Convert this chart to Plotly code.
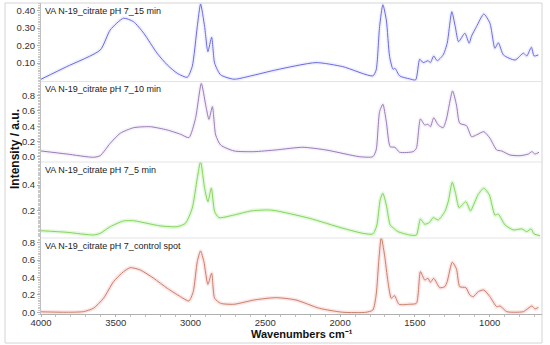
import plotly.graph_objects as go

# ---------------- data ----------------
titles = ["VA N-19_citrate pH 7_15 min", "VA N-19_citrate pH 7_10 min",
          "VA N-19_citrate pH 7_5 min", "VA N-19_citrate pH 7_control spot"]

wn_15 = [4000, 3828, 3604, 3537, 3448, 3381, 3313, 3224, 3156, 3089, 3022, 2989, 2955, 2933, 2906,
         2884, 2859, 2839, 2799, 2709, 2597, 2430, 2161, 1982, 1781, 1759, 1736, 1714, 1691, 1669,
         1646, 1633, 1602, 1535, 1495, 1468, 1445, 1412, 1396, 1374, 1351, 1311, 1284, 1253, 1230,
         1208, 1166, 1137, 1121, 1088, 1039, 998, 965, 942, 908, 830, 774, 752, 721, 703, 674]
int_15 = [0.008, 0.08, 0.175, 0.29, 0.357, 0.337, 0.271, 0.157, 0.09, 0.042, 0.019, 0.08, 0.309, 0.438, 0.309,
          0.166, 0.248, 0.10, 0.033, 0.008, 0.027, 0.061, 0.103, 0.08, 0.027, 0.061, 0.309, 0.434, 0.347, 0.137,
          0.065, 0.071, 0.027, 0.01, 0.004, 0.122, 0.103, 0.114, 0.103, 0.141, 0.114, 0.147, 0.214, 0.394, 0.309,
          0.223, 0.271, 0.214, 0.255, 0.309, 0.381, 0.328, 0.185, 0.217, 0.147, 0.118, 0.157, 0.141, 0.191, 0.141, 0.147]

wn_10 = [4000, 3828, 3649, 3604, 3537, 3470, 3381, 3269, 3156, 3067, 3011, 2967, 2928, 2899, 2877,
         2854, 2832, 2799, 2709, 2575, 2430, 2250, 2094, 1871, 1781, 1759, 1736, 1714, 1691, 1665,
         1633, 1602, 1512, 1490, 1463, 1434, 1412, 1396, 1374, 1344, 1311, 1289, 1248, 1222, 1200,
         1155, 1121, 1088, 1039, 998, 953, 920, 864, 797, 741, 718, 696, 670]
int_10 = [0.075, 0.035, -0.008, 0.013, 0.176, 0.307, 0.38, 0.393, 0.35, 0.294, 0.25, 0.50, 0.96, 0.68, 0.49,
          0.656, 0.285, 0.153, 0.075, 0.066, 0.088, 0.123, 0.088, 0.0, 0.0, 0.088, 0.59, 0.687, 0.46, 0.131,
          0.123, 0.058, 0.066, 0.11, 0.494, 0.416, 0.425, 0.393, 0.51, 0.416, 0.38, 0.494, 0.862, 0.678, 0.438,
          0.407, 0.262, 0.285, 0.328, 0.241, 0.088, 0.075, 0.022, 0.013, 0.035, 0.066, 0.035, 0.058]

wn_5 = [4000, 3828, 3649, 3604, 3537, 3448, 3381, 3291, 3201, 3089, 3034, 2989, 2955, 2933, 2906,
        2884, 2861, 2839, 2810, 2709, 2597, 2485, 2430, 2206, 1982, 1848, 1781, 1754, 1732, 1714,
        1691, 1665, 1642, 1613, 1535, 1490, 1463, 1434, 1401, 1378, 1344, 1300, 1277, 1250, 1228,
        1204, 1159, 1128, 1106, 1076, 1039, 1002, 965, 942, 897, 841, 785, 752, 723, 703, 663]
int_5 = [0.048, 0.036, 0.015, 0.028, 0.079, 0.123, 0.125, 0.105, 0.085, 0.079, 0.105, 0.221, 0.452, 0.58, 0.375,
         0.272, 0.375, 0.195, 0.149, 0.169, 0.2, 0.208, 0.202, 0.144, 0.067, 0.028, 0.023, 0.092, 0.285, 0.336,
         0.246, 0.092, 0.067, 0.041, 0.015, 0.015, 0.138, 0.098, 0.113, 0.149, 0.131, 0.195, 0.272, 0.421, 0.336,
         0.225, 0.272, 0.2, 0.252, 0.328, 0.375, 0.323, 0.169, 0.175, 0.092, 0.054, 0.062, 0.041, 0.062, 0.023, 0.01]

wn_ctrl = [4000, 3828, 3716, 3649, 3582, 3515, 3448, 3403, 3336, 3246, 3156, 3067, 3011, 2982, 2955,
           2933, 2911, 2884, 2859, 2839, 2799, 2709, 2575, 2430, 2295, 2139, 1982, 1826, 1781, 1759,
           1740, 1725, 1703, 1680, 1658, 1636, 1606, 1535, 1490, 1463, 1434, 1412, 1396, 1374, 1334,
           1300, 1284, 1250, 1222, 1200, 1159, 1133, 1110, 1076, 1039, 998, 953, 931, 886, 830,
           774, 718, 696, 674]
int_ctrl = [0.005, 0.0, 0.007, 0.046, 0.161, 0.352, 0.467, 0.513, 0.486, 0.39, 0.276, 0.179, 0.13, 0.237, 0.582,
            0.705, 0.582, 0.322, 0.448, 0.161, 0.103, 0.092, 0.141, 0.168, 0.141, 0.046, 0.0, 0.0, 0.026, 0.2,
            0.62, 0.86, 0.66, 0.352, 0.161, 0.191, 0.092, 0.092, 0.103, 0.467, 0.371, 0.39, 0.345, 0.39, 0.283,
            0.294, 0.352, 0.575, 0.498, 0.294, 0.283, 0.199, 0.179, 0.237, 0.256, 0.179, 0.064, 0.072, 0.007, 0.0,
            0.007, 0.072, 0.038, 0.057]

x_ticks = [4000, 3500, 3000, 2500, 2000, 1500, 1000]
y_ticks = [[0.10, 0.20, 0.30, 0.40], [0.0, 0.2, 0.4, 0.6, 0.8], [0.2, 0.4], [0.0, 0.2, 0.4, 0.6, 0.8]]
y_tick_text = [["0.10", "0.20", "0.30", "0.40"], ["0.0", "0.2", "0.4", "0.6", "0.8"],
               ["0.2", "0.4"], ["0.0", "0.2", "0.4", "0.6", "0.8"]]

# ---------------- styling ----------------
colors = ["#6a6ae0", "#9a7ab8", "#86d45a", "#c8806c"]
halo = ["rgba(106,106,224,0.10)", "rgba(154,122,184,0.10)", "rgba(140,230,120,0.25)", "rgba(240,150,150,0.25)"]
y_ranges = [[-0.005, 0.444], [-0.07, 0.986], [-0.008, 0.577], [-0.02, 0.854]]
domains = [[0.7476, 1.0], [0.4887, 0.7476], [0.2444, 0.4887], [0.0, 0.2444]]
series = [(wn_15, int_15), (wn_10, int_10), (wn_5, int_5), (wn_ctrl, int_ctrl)]

W, H = 550, 345
ML, MR, MT, MB = 41, 8, 3, 31
PW, PH = W - ML - MR, H - MT - MB
FONT = "Liberation Sans, Arial, sans-serif"

fig = go.Figure()
axnames = ["y", "y2", "y3", "y4"]
for i, (wx, wy) in enumerate(series):
    fig.add_trace(go.Scatter(x=wx, y=wy, xaxis="x", yaxis=axnames[i], mode="lines",
                             line=dict(color=halo[i], width=4, shape="spline", smoothing=0.6),
                             hoverinfo="skip", showlegend=False))
    fig.add_trace(go.Scatter(x=wx, y=wy, xaxis="x", yaxis=axnames[i], mode="lines",
                             line=dict(color=colors[i], width=1, shape="spline", smoothing=0.6),
                             name=titles[i], showlegend=False))

layout = dict(
    width=W, height=H, margin=dict(l=ML, r=MR, t=MT, b=MB, autoexpand=False),
    paper_bgcolor="white", plot_bgcolor="white",
    font=dict(family=FONT, size=10, color="#333"),
    showlegend=False,
    xaxis=dict(domain=[0, 1], anchor="y4", range=[4000, 650], tickvals=x_ticks,
               ticktext=[str(v) for v in x_ticks], showgrid=False, zeroline=False,
               showline=True, linecolor="#b0b0b0", linewidth=1, ticks="outside", ticklen=2,
               tickcolor="#b0b0b0", tickfont=dict(size=9.5, color="#333"), ticklabelstandoff=-2,
               minor=dict(dtick=100, ticks="outside", ticklen=2, tickcolor="#c0c0c0")),
)
for i in range(4):
    key = "yaxis" if i == 0 else f"yaxis{i+1}"
    layout[key] = dict(domain=domains[i], anchor="x", range=y_ranges[i],
                       tickvals=y_ticks[i], ticktext=y_tick_text[i],
                       showgrid=False, zeroline=False, showline=True, linecolor="#c0c0c0",
                       linewidth=1, ticks="outside", ticklen=3, tickcolor="#b0b0b0",
                       tickfont=dict(size=9.5, color="#333"),
                       minor=dict(nticks=12, ticks="outside", ticklen=2, tickcolor="#c8c8c8"))
fig.update_layout(**layout)

# panel titles
for i in range(4):
    fig.add_annotation(x=0.004, y=domains[i][1], xref="paper", yref="paper", text=titles[i],
                       showarrow=False, xanchor="left", yanchor="middle", yshift=-8,
                       font=dict(size=9, color="#222", family=FONT))

# axis titles
fig.add_annotation(x=(302 - ML) / PW, y=(MT + PH - 334) / PH, xref="paper", yref="paper",
                   text="<b>Wavenumbers cm\u207b\u00b9</b>", showarrow=False,
                   xanchor="center", yanchor="middle", font=dict(size=11, color="#111", family=FONT))
fig.add_annotation(x=(15 - ML) / PW, y=(MT + PH - 149) / PH, xref="paper", yref="paper",
                   text="<b>Intensity / a.u.</b>", showarrow=False, textangle=-90,
                   xanchor="center", yanchor="middle", font=dict(size=12, color="#111", family=FONT))

# panel separators and outer frame
shapes = []
for b in [domains[0][0], domains[1][0], domains[2][0]]:
    shapes.append(dict(type="line", xref="paper", yref="paper", x0=0, x1=1, y0=b, y1=b,
                       line=dict(color="#e4e4e4", width=1)))
shapes.append(dict(type="rect", xref="paper", yref="paper",
                   x0=(5 - ML) / PW, x1=1.0, y0=(MT + PH - 343) / PH, y1=1.0,
                   line=dict(color="#d4d4d4", width=1), layer="below"))
fig.update_layout(shapes=shapes)

fig.write_html("out.html", config={"displayModeBar": False},
               post_script="document.body.style.margin='0px';")
